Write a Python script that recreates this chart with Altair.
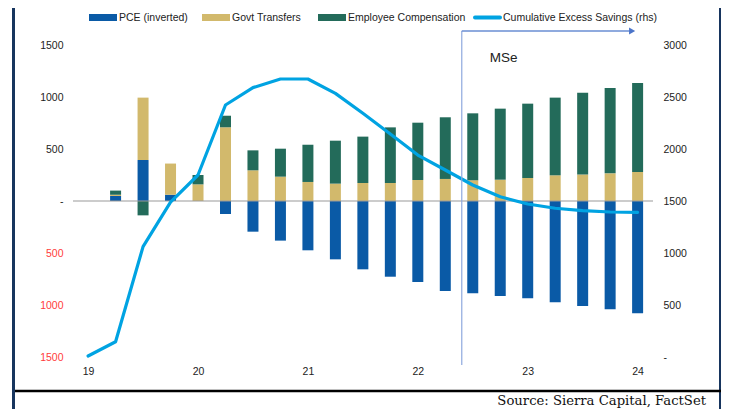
import altair as alt
import pandas as pd

# ---------------- data ----------------
quarters = ["2019Q4",
            "2020Q1", "2020Q2", "2020Q3", "2020Q4",
            "2021Q1", "2021Q2", "2021Q3", "2021Q4",
            "2022Q1", "2022Q2", "2022Q3", "2022Q4",
            "2023Q1", "2023Q2", "2023Q3", "2023Q4",
            "2024Q1", "2024Q2", "2024Q3", "2024Q4"]

# bars start at 2020Q1 (20 quarters)
pce_inverted = [48, 394, 60, 0, -125, -295, -381, -474, -561, -657,
                -728, -779, -865, -888, -913, -936, -974, -1010, -1042, -1080]
govt_transfers = [12, 600, 300, 160, 709, 295, 234, 183, 167, 173,
                  173, 202, 212, 199, 205, 221, 247, 256, 266, 279]
employee_comp = [40, -138, 0, 90, 111, 192, 269, 358, 413, 446,
                 535, 551, 593, 644, 683, 715, 747, 786, 821, 856]

# cumulative excess savings (rhs), 2019Q4 .. 2024Q4
excess_savings = [10, 147, 1061, 1490, 1750, 2423, 2590, 2673, 2673, 2535,
                  2343, 2144, 1942, 1798, 1654, 1541, 1471, 1430, 1407, 1394, 1391]

series_names = ["PCE (inverted)", "Govt Transfers", "Employee Compensation"]
series_colors = ["#0A5AA6", "#D2B96C", "#236B5A"]
line_name = "Cumulative Excess Savings (rhs)"
line_color = "#00A3E2"

left_ticks = [-1500, -1000, -500, 0, 500, 1000, 1500]
right_ticks = [0, 500, 1000, 1500, 2000, 2500, 3000]
year_tick_pos = [-1, 3, 7, 11, 15, 19]
forecast_start = 12.6
source_text = "Source: Sierra Capital, FactSet"

# ---------------- tables ----------------
rows = []
for i, q in enumerate(quarters[1:]):
    for k, (name, vals) in enumerate(zip(series_names, [pce_inverted, govt_transfers, employee_comp])):
        rows.append({"pos": i, "quarter": q, "series": name, "value": vals[i], "order": k})
bars_df = pd.DataFrame(rows)
line_df = pd.DataFrame({"pos": list(range(-1, len(quarters) - 1)),
                        "quarter": quarters, "savings": excess_savings})
one = pd.DataFrame({"a": [0]})

SANS = "Liberation Sans, Arial, sans-serif"
LBL = 10.5

x_scale = alt.Scale(domain=[-1.55, 19.56], nice=False, zero=False, padding=0)
x_axis = alt.Axis(values=year_tick_pos,
                  labelExpr="'' + (19 + (datum.value + 1) / 4)",
                  title=None, grid=False, domain=False, ticks=False,
                  labelPadding=9, labelFont=SANS, labelFontSize=LBL,
                  labelColor="#222222")
X = alt.X("pos:Q", scale=x_scale, axis=x_axis)

left_axis = alt.Axis(values=left_ticks, orient="left",
                     labelExpr="datum.value == 0 ? '-' : format(abs(datum.value), 'd')",
                     labelColor={"condition": {"test": "datum.value < 0", "value": "#FF3B3B"},
                                 "value": "#222222"},
                     title=None, grid=False, domain=False, ticks=False,
                     labelPadding=10, labelFont=SANS, labelFontSize=LBL)
right_axis = alt.Axis(values=right_ticks, orient="right",
                      labelExpr="datum.value == 0 ? '-' : format(datum.value, 'd')",
                      title=None, grid=False, domain=False, ticks=False,
                      labelPadding=10, labelFont=SANS, labelFontSize=LBL,
                      labelColor="#222222")

bars = alt.Chart(bars_df).mark_bar(size=11).encode(
    x=X,
    y=alt.Y("value:Q", stack="zero",
            scale=alt.Scale(domain=[-1500, 1500], nice=False), axis=left_axis),
    color=alt.Color("series:N", scale=alt.Scale(domain=series_names, range=series_colors),
                    legend=None),
    order=alt.Order("order:Q"),
)
zero_rule = alt.Chart(one).mark_rule(color="#9A9A9A", strokeWidth=1.2).encode(
    y=alt.datum(0)
)
left_layer = alt.layer(bars, zero_rule)

line = alt.Chart(line_df).mark_line(color=line_color, strokeWidth=3.2,
                                    strokeCap="round", strokeJoin="round").encode(
    x=X,
    y=alt.Y("savings:Q", scale=alt.Scale(domain=[0, 3000], nice=False), axis=right_axis),
)

# ---------------- annotations ----------------
vline = alt.Chart(one).mark_rule(color="#8EA8DE", strokeWidth=1.2).encode(
    x=alt.datum(forecast_start), y=alt.value(-14), y2=alt.value(320))
arrow = alt.Chart(one).mark_rule(color="#6A8ED3", strokeWidth=1.3).encode(
    x=alt.datum(forecast_start), x2=alt.datum(18.7), y=alt.value(-14))
arrow_head = alt.Chart(one).mark_point(shape="triangle-right", filled=True, size=50,
                                       color="#4A74C9", opacity=1).encode(
    x=alt.datum(18.8), y=alt.value(-14))
mse = alt.Chart(one).mark_text(align="left", baseline="middle", fontSize=13.5,
                               font=SANS, color="#222222").encode(
    x=alt.datum(13.62), y=alt.value(13), text=alt.value("MSe"))

legend_layers = []
legend_spec = [(16, series_names[0], series_colors[0]),
               (129, series_names[1], series_colors[1]),
               (245, series_names[2], series_colors[2])]
for lx, name, col in legend_spec:
    legend_layers.append(alt.Chart(one).mark_rect(color=col).encode(
        x=alt.value(lx), x2=alt.value(lx + 28), y=alt.value(-31), y2=alt.value(-24)))
    legend_layers.append(alt.Chart(one).mark_text(align="left", baseline="middle",
                                                  font=SANS, fontSize=10.5,
                                                  color="#222222").encode(
        x=alt.value(lx + 30), y=alt.value(-27.5), text=alt.value(name)))
legend_layers.append(alt.Chart(one).mark_rule(color=line_color, strokeWidth=4,
                                              strokeCap="round").encode(
    x=alt.value(402), x2=alt.value(427), y=alt.value(-27.5)))
legend_layers.append(alt.Chart(one).mark_text(align="left", baseline="middle",
                                              font=SANS, fontSize=10.5,
                                              color="#222222").encode(
    x=alt.value(430), y=alt.value(-27.5), text=alt.value(line_name)))

frame_left = alt.Chart(one).mark_rect(color="#17355E").encode(
    x=alt.value(-61), x2=alt.value(-58), y=alt.value(-37), y2=alt.value(364))
frame_right = alt.Chart(one).mark_rect(color="#17355E").encode(
    x=alt.value(646), x2=alt.value(650), y=alt.value(-37), y2=alt.value(364))
bottom_rule = alt.Chart(one).mark_rule(color="#000000", strokeWidth=2.5).encode(
    x=alt.value(-58), x2=alt.value(648), y=alt.value(346))
source = alt.Chart(one).mark_text(align="right", baseline="alphabetic",
                                  font="DejaVu Serif", fontSize=13.2,
                                  color="#111111").encode(
    x=alt.value(633), y=alt.value(360), text=alt.value(source_text))

chart = alt.layer(
    left_layer, line, vline, arrow, arrow_head, mse,
    *legend_layers, frame_left, frame_right, bottom_rule, source
).resolve_scale(y="independent").properties(
    width=580, height=312,
    padding={"left": 65, "top": 37, "right": 68, "bottom": 52},
    autosize=alt.AutoSizeParams(type="none"),
    background="white",
).configure_view(stroke=None)

chart.save("out.html", embed_options={"renderer": "svg", "actions": False})
